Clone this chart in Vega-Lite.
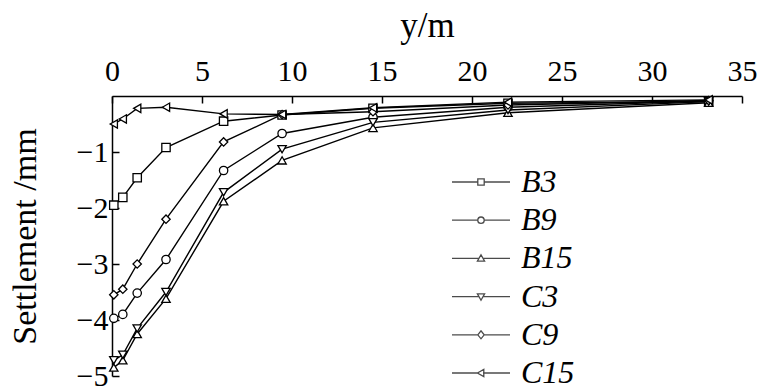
{
  "$schema": "https://vega.github.io/schema/vega-lite/v6.json",
  "width": 630,
  "height": 280,
  "autosize": {"type": "none"},
  "padding": {"left": 112, "top": 96, "right": 19, "bottom": 15},
  "background": "white",
  "config": {
    "font": "Liberation Serif",
    "view": {"stroke": null},
    "axis": {
      "grid": false,
      "domainColor": "black",
      "domainWidth": 1.5,
      "tickColor": "black",
      "tickWidth": 1.5,
      "labelColor": "black",
      "titleColor": "black",
      "labelFontWeight": "normal",
      "titleFontWeight": "normal"
    }
  },
  "data": {
    "values": [
      {"series": "B3", "pos": 0.1, "settle": -1.95},
      {"series": "B3", "pos": 0.6, "settle": -1.81},
      {"series": "B3", "pos": 1.4, "settle": -1.46},
      {"series": "B3", "pos": 3.0, "settle": -0.92},
      {"series": "B3", "pos": 6.2, "settle": -0.45},
      {"series": "B3", "pos": 9.45, "settle": -0.34},
      {"series": "B3", "pos": 14.5, "settle": -0.22},
      {"series": "B3", "pos": 22.0, "settle": -0.13},
      {"series": "B3", "pos": 33.15, "settle": -0.10},
      {"series": "B9", "pos": 0.1, "settle": -3.97},
      {"series": "B9", "pos": 0.6, "settle": -3.90},
      {"series": "B9", "pos": 1.4, "settle": -3.52},
      {"series": "B9", "pos": 3.0, "settle": -2.92},
      {"series": "B9", "pos": 6.2, "settle": -1.33},
      {"series": "B9", "pos": 9.45, "settle": -0.67},
      {"series": "B9", "pos": 14.5, "settle": -0.38},
      {"series": "B9", "pos": 22.0, "settle": -0.20},
      {"series": "B9", "pos": 33.15, "settle": -0.09},
      {"series": "B15", "pos": 0.1, "settle": -4.85},
      {"series": "B15", "pos": 0.6, "settle": -4.72},
      {"series": "B15", "pos": 1.4, "settle": -4.25},
      {"series": "B15", "pos": 3.0, "settle": -3.62},
      {"series": "B15", "pos": 6.2, "settle": -1.88},
      {"series": "B15", "pos": 9.45, "settle": -1.15},
      {"series": "B15", "pos": 14.5, "settle": -0.57},
      {"series": "B15", "pos": 22.0, "settle": -0.30},
      {"series": "B15", "pos": 33.15, "settle": -0.12},
      {"series": "C3", "pos": 0.1, "settle": -4.72},
      {"series": "C3", "pos": 0.6, "settle": -4.62},
      {"series": "C3", "pos": 1.4, "settle": -4.15},
      {"series": "C3", "pos": 3.0, "settle": -3.50},
      {"series": "C3", "pos": 6.2, "settle": -1.72},
      {"series": "C3", "pos": 9.45, "settle": -0.95},
      {"series": "C3", "pos": 14.5, "settle": -0.47},
      {"series": "C3", "pos": 22.0, "settle": -0.25},
      {"series": "C3", "pos": 33.15, "settle": -0.10},
      {"series": "C9", "pos": 0.1, "settle": -3.55},
      {"series": "C9", "pos": 0.6, "settle": -3.45},
      {"series": "C9", "pos": 1.4, "settle": -3.00},
      {"series": "C9", "pos": 3.0, "settle": -2.20},
      {"series": "C9", "pos": 6.2, "settle": -0.82},
      {"series": "C9", "pos": 9.45, "settle": -0.33},
      {"series": "C9", "pos": 14.5, "settle": -0.28},
      {"series": "C9", "pos": 22.0, "settle": -0.16},
      {"series": "C9", "pos": 33.15, "settle": -0.08},
      {"series": "C15", "pos": 0.1, "settle": -0.50},
      {"series": "C15", "pos": 0.6, "settle": -0.41},
      {"series": "C15", "pos": 1.4, "settle": -0.22},
      {"series": "C15", "pos": 3.0, "settle": -0.20},
      {"series": "C15", "pos": 6.2, "settle": -0.32},
      {"series": "C15", "pos": 9.45, "settle": -0.33},
      {"series": "C15", "pos": 14.5, "settle": -0.21},
      {"series": "C15", "pos": 22.0, "settle": -0.11},
      {"series": "C15", "pos": 33.15, "settle": -0.07}
    ]
  },
  "encoding": {
    "x": {
      "field": "pos",
      "type": "quantitative",
      "scale": {"domain": [0, 35], "nice": false, "zero": false},
      "axis": {
        "orient": "top",
        "title": "y/m",
        "values": [0, 5, 10, 15, 20, 25, 30, 35],
        "tickSize": -7,
        "labelPadding": 17,
        "labelFontSize": 30,
        "labelFlush": false,
        "titleFontSize": 35,
        "titlePadding": 13
      }
    },
    "y": {
      "field": "settle",
      "type": "quantitative",
      "scale": {"domain": [-5, 0], "nice": false, "zero": false},
      "axis": {
        "title": "Settlement /mm",
        "values": [-1, -2, -3, -4, -5],
        "tickSize": -7,
        "labelPadding": 11,
        "labelFontSize": 30,
        "labelFlush": false,
        "titleFontSize": 34,
        "titlePadding": 34
      }
    }
  },
  "layer": [
    {
      "mark": {"type": "line", "color": "black", "strokeWidth": 1.4},
      "encoding": {"detail": {"field": "series", "type": "nominal"}}
    },
    {
      "mark": {"type": "point", "filled": true, "fill": "white", "stroke": "black", "strokeWidth": 1.3, "size": 70, "opacity": 1},
      "encoding": {
        "shape": {
          "field": "series",
          "type": "nominal",
          "scale": {
            "domain": ["B3", "B9", "B15", "C3", "C9", "C15"],
            "range": ["square", "circle", "triangle-up", "triangle-down", "diamond", "triangle-left"]
          },
          "legend": null
        }
      }
    },
    {
      "transform": [{"filter": "false"}],
      "mark": {"type": "point", "filled": false, "color": "black", "strokeWidth": 1.3},
      "encoding": {
        "shape": {
          "field": "series",
          "type": "nominal",
          "scale": {
            "domain": ["B3", "B9", "B15", "C3", "C9", "C15"],
            "range": [
              "M-7.25,0H-0.8M0.8,0H7.25M-0.8,-0.8H0.8V0.8H-0.8Z",
              "M-7.25,0H-0.8M0.8,0H7.25M-0.8,0A0.8,0.8,0,1,0,0.8,0A0.8,0.8,0,1,0,-0.8,0Z",
              "M-7.25,0H-0.5M0.5,0H7.25M0,-0.9L0.9,0.7H-0.9Z",
              "M-7.25,0H-0.5M0.5,0H7.25M0,0.9L0.9,-0.7H-0.9Z",
              "M-7.25,0H-0.8M0.8,0H7.25M-0.8,0L0,-1L0.8,0L0,1Z",
              "M-7.25,0H-0.5M0.5,0H7.25M-0.9,0L0.7,-0.9V0.9Z"
            ]
          },
          "legend": {
            "title": null,
            "orient": "none",
            "legendX": 353,
            "legendY": 70,
            "symbolSize": 64,
            "symbolStrokeWidth": 1.3,
            "symbolStrokeColor": "black",
            "labelFontSize": 32,
            "labelFontStyle": "italic",
            "labelColor": "black",
            "labelOffset": 24,
            "rowPadding": 6.2
          }
        }
      }
    }
  ],
  "resolve": {"scale": {"shape": "independent"}, "legend": {"shape": "independent"}}
}
